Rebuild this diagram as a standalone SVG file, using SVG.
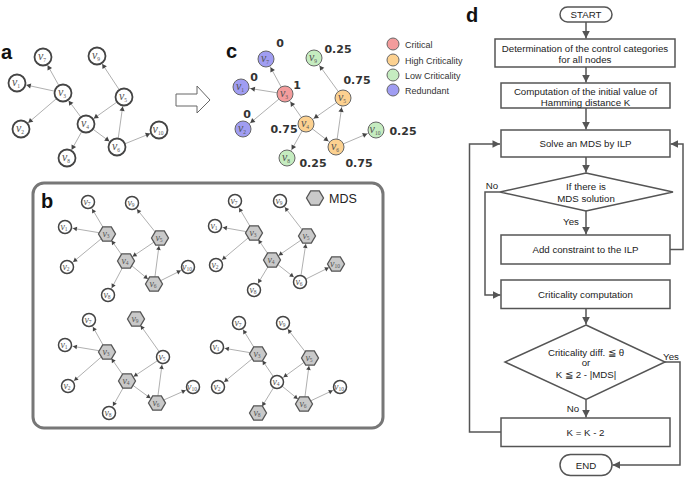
<svg xmlns="http://www.w3.org/2000/svg" xmlns:xlink="http://www.w3.org/1999/xlink" width="685" height="479" viewBox="0 0 685 479">
<style>
.e{stroke:#b0b0b0;stroke-width:1;fill:none}
.ea{marker-end:url(#ma)}
.eb{marker-end:url(#mb)}
.n{fill:#fff;stroke:#444;stroke-width:1.8}
.nb{fill:#fff;stroke:#444;stroke-width:1.5}
.cn{stroke:#666;stroke-width:1}
.red{fill:#f39c9c}.org{fill:#fcd190}.grn{fill:#c5ecc0}.blu{fill:#a09df2}
.hx{fill:#c9c9c9;stroke:#555;stroke-width:1.3}
.lb{font-family:"Liberation Serif",serif;font-style:italic;font-size:12px;fill:#555;text-anchor:middle}
.lbs{font-family:"Liberation Serif",serif;font-style:italic;font-size:10px;fill:#555;text-anchor:middle}
.sub{font-size:5.5px;font-style:normal}
.pl{font-family:"Liberation Sans",Arial,sans-serif;font-weight:bold;font-size:20px;fill:#111}
.val{font-family:"DejaVu Sans",sans-serif;font-weight:bold;font-size:11px;fill:#333;text-anchor:middle}
.lg{font-family:"Liberation Sans",Arial,sans-serif;font-size:9px;fill:#333}
.fl{fill:none;stroke:#555;stroke-width:1.5}
.fa{marker-end:url(#mf)}
.bx{fill:#fff;stroke:#555;stroke-width:1.5}
.ft{font-family:"Liberation Sans",Arial,sans-serif;font-size:9.7px;fill:#222;text-anchor:middle}
</style>
<defs>
<marker id="ma" markerUnits="userSpaceOnUse" orient="auto" refX="0" refY="0" markerWidth="20" markerHeight="20" overflow="visible"><path d="M-14,-2.6 L-9.5,0 L-14,2.6 z" fill="#444"/></marker>
<marker id="mb" markerUnits="userSpaceOnUse" orient="auto" refX="0" refY="0" markerWidth="20" markerHeight="20" overflow="visible"><path d="M-12,-2.3 L-8,0 L-12,2.3 z" fill="#444"/></marker>
<marker id="mf" markerUnits="userSpaceOnUse" orient="auto" refX="0" refY="0" markerWidth="20" markerHeight="20" overflow="visible"><path d="M-7.5,-3.8 L0,0 L-7.5,3.8 z" fill="#555"/></marker>
<polygon id="hex" points="-8.5,0 -4.3,-7.2 4.3,-7.2 8.5,0 4.3,7.2 -4.3,7.2"/>
</defs>
<rect width="685" height="479" fill="#fff"/>

<!-- panel labels -->
<text class="pl" x="1" y="59">a</text>
<text class="pl" x="226" y="58">c</text>
<text class="pl" x="41" y="208">b</text>
<text class="pl" x="466" y="22">d</text>

<!-- hollow arrow -->
<polygon points="176,94 197,94 197,86 210,100 197,113 197,106 176,106" fill="#fff" stroke="#666" stroke-width="1"/>

<!-- panel b frame -->
<rect x="33" y="183" width="350" height="245" rx="11" fill="none" stroke="#777" stroke-width="3"/>
<g id="mds-legend">
<use href="#hex" x="315" y="198" class="hx"/>
<text x="329" y="202.5" font-family="Liberation Sans, Arial, sans-serif" font-size="12.5" fill="#222">MDS</text>
</g>

<!-- connectors -->
<g id="connectors">
<g id="edges-a" class="e ea">
<path d="M63,93 L43,57"/><path d="M63,93 L17,83"/><path d="M63,93 L21,129"/><path d="M86,124 L63,93"/><path d="M124,97 L97,56"/><path d="M124,97 L86,124"/><path d="M86,124 L67,158"/><path d="M86,124 L117,147"/><path d="M117,147 L124,97"/><path d="M117,147 L159,130"/>
</g>
<g id="edges-c" class="e ea">
<path d="M285,94 L266,59"/><path d="M285,94 L241,87"/><path d="M285,94 L243,129"/><path d="M306,124 L285,94"/><path d="M343,98 L314,58"/><path d="M343,98 L306,124"/><path d="M306,124 L287,158"/><path d="M306,124 L336,147"/><path d="M336,147 L343,98"/><path d="M336,147 L376,130"/>
</g>
<g id="edges-b1" class="e eb">
<path d="M107,234 L88,202"/><path d="M107,234 L65,227"/><path d="M107,234 L67,267"/><path d="M126,261 L107,234"/><path d="M160,238 L132,203"/><path d="M160,238 L126,261"/><path d="M126,261 L108,295"/><path d="M126,261 L154,284"/><path d="M154,284 L160,238"/><path d="M154,284 L188,267"/>
</g>
<g id="edges-b2" class="e eb">
<path d="M254,233 L235,201"/><path d="M254,233 L215,226"/><path d="M254,233 L216,265"/><path d="M272,260 L254,233"/><path d="M307,236 L280,201"/><path d="M307,236 L272,260"/><path d="M272,260 L254,290"/><path d="M272,260 L300,282"/><path d="M300,282 L307,236"/><path d="M300,282 L336,264"/>
</g>
<g id="edges-b3" class="e eb">
<path d="M107,352 L89,320"/><path d="M107,352 L65,345"/><path d="M107,352 L68,386"/><path d="M127,381 L107,352"/><path d="M163,357 L136,319"/><path d="M163,357 L127,381"/><path d="M127,381 L109,413"/><path d="M127,381 L157,403"/><path d="M157,403 L163,357"/><path d="M157,403 L193,387"/>
</g>
<g id="edges-b4" class="e eb">
<path d="M258,354 L239,323"/><path d="M258,354 L217,347"/><path d="M258,354 L218,387"/><path d="M277,382 L258,354"/><path d="M310,358 L283,323"/><path d="M310,358 L277,382"/><path d="M277,382 L258,413"/><path d="M277,382 L304,404"/><path d="M304,404 L310,358"/><path d="M304,404 L340,387"/>
</g>
<g id="flow-connectors" class="fl fa">
<path d="M586,22 L586,38.5"/>
<path d="M586,67 L586,82.5"/>
<path d="M586,108 L586,129.5"/>
<path d="M586,157 L586,172.5"/>
<path d="M586,211 L586,234.5"/>
<path d="M586,308.5 L586,324.5"/>
<path d="M586,399.5 L586,417.5"/>
<path d="M500,192 L485,192 L485,295 L500.5,295"/>
<path d="M670,249.5 L683,249.5 L683,144 L670.5,144"/>
<path d="M501,432 L469.5,432 L469.5,144 L500,144"/>
<path d="M665,362 L680,362 L680,465 L612.5,465"/>
</g>
</g>

<!-- panel a nodes -->
<g id="a-v7"><circle class="n" cx="43" cy="57" r="8.5"/><text class="lb" x="42" y="60">v<tspan class="sub" dy="1.5">7</tspan></text></g>
<g id="a-v9"><circle class="n" cx="97" cy="56" r="8.5"/><text class="lb" x="96" y="59">v<tspan class="sub" dy="1.5">9</tspan></text></g>
<g id="a-v1"><circle class="n" cx="17" cy="83" r="8.5"/><text class="lb" x="16" y="86">v<tspan class="sub" dy="1.5">1</tspan></text></g>
<g id="a-v3"><circle class="n" cx="63" cy="93" r="8.5"/><text class="lb" x="62" y="96">v<tspan class="sub" dy="1.5">3</tspan></text></g>
<g id="a-v5"><circle class="n" cx="124" cy="97" r="8.5"/><text class="lb" x="123" y="100">v<tspan class="sub" dy="1.5">5</tspan></text></g>
<g id="a-v2"><circle class="n" cx="21" cy="129" r="8.5"/><text class="lb" x="20" y="132">v<tspan class="sub" dy="1.5">2</tspan></text></g>
<g id="a-v4"><circle class="n" cx="86" cy="124" r="8.5"/><text class="lb" x="85" y="127">v<tspan class="sub" dy="1.5">4</tspan></text></g>
<g id="a-v10"><circle class="n" cx="159" cy="130" r="8.5"/><text class="lb" x="158" y="133">v<tspan class="sub" dy="1.5">10</tspan></text></g>
<g id="a-v6"><circle class="n" cx="117" cy="147" r="8.5"/><text class="lb" x="116" y="150">v<tspan class="sub" dy="1.5">6</tspan></text></g>
<g id="a-v8"><circle class="n" cx="67" cy="158" r="8.5"/><text class="lb" x="66" y="161">v<tspan class="sub" dy="1.5">8</tspan></text></g>

<!-- panel c nodes -->
<g id="c-v7"><circle class="cn blu" cx="266" cy="59" r="8"/><text class="lb" x="265" y="62">v<tspan class="sub" dy="1.5">7</tspan></text><text class="val" x="280" y="47">0</text></g>
<g id="c-v9"><circle class="cn grn" cx="314" cy="58" r="8"/><text class="lb" x="313" y="61">v<tspan class="sub" dy="1.5">9</tspan></text><text class="val" x="338" y="53">0.25</text></g>
<g id="c-v1"><circle class="cn blu" cx="241" cy="87" r="8"/><text class="lb" x="240" y="90">v<tspan class="sub" dy="1.5">1</tspan></text><text class="val" x="254" y="81">0</text></g>
<g id="c-v3"><circle class="cn red" cx="285" cy="94" r="8"/><text class="lb" x="284" y="97">v<tspan class="sub" dy="1.5">3</tspan></text><text class="val" x="297" y="89">1</text></g>
<g id="c-v5"><circle class="cn org" cx="343" cy="98" r="8"/><text class="lb" x="342" y="101">v<tspan class="sub" dy="1.5">5</tspan></text><text class="val" x="357" y="84">0.75</text></g>
<g id="c-v2"><circle class="cn blu" cx="243" cy="129" r="8"/><text class="lb" x="242" y="132">v<tspan class="sub" dy="1.5">2</tspan></text><text class="val" x="247" y="118">0</text></g>
<g id="c-v4"><circle class="cn org" cx="306" cy="124" r="8"/><text class="lb" x="305" y="127">v<tspan class="sub" dy="1.5">4</tspan></text><text class="val" x="284" y="133">0.75</text></g>
<g id="c-v10"><circle class="cn grn" cx="376" cy="130" r="8"/><text class="lb" x="375" y="133">v<tspan class="sub" dy="1.5">10</tspan></text><text class="val" x="403" y="135">0.25</text></g>
<g id="c-v6"><circle class="cn org" cx="336" cy="147" r="8"/><text class="lb" x="335" y="150">v<tspan class="sub" dy="1.5">6</tspan></text><text class="val" x="359" y="167">0.75</text></g>
<g id="c-v8"><circle class="cn grn" cx="287" cy="158" r="8"/><text class="lb" x="286" y="161">v<tspan class="sub" dy="1.5">8</tspan></text><text class="val" x="313" y="167">0.25</text></g>

<!-- legend c -->
<g id="legend-c">
<circle class="cn red" cx="393" cy="44" r="6"/><text class="lg" x="405" y="47.5">Critical</text>
<circle class="cn org" cx="393" cy="60" r="6"/><text class="lg" x="405" y="63.5">High Criticality</text>
<circle class="cn grn" cx="393" cy="75" r="6"/><text class="lg" x="405" y="78.5">Low Criticality</text>
<circle class="cn blu" cx="393" cy="90" r="6"/><text class="lg" x="405" y="93.5">Redundant</text>
</g>

<!-- panel b: top-left -->
<g id="b1-v7"><circle class="nb" cx="88" cy="202" r="6.5"/><text class="lbs" x="87" y="204.5">v<tspan class="sub" dy="1.5">7</tspan></text></g>
<g id="b1-v9"><circle class="nb" cx="132" cy="203" r="6.5"/><text class="lbs" x="131" y="205.5">v<tspan class="sub" dy="1.5">9</tspan></text></g>
<g id="b1-v1"><circle class="nb" cx="65" cy="227" r="6.5"/><text class="lbs" x="64" y="229.5">v<tspan class="sub" dy="1.5">1</tspan></text></g>
<g id="b1-v3"><use href="#hex" class="hx" x="107" y="234"/><text class="lbs" x="106" y="236.5">v<tspan class="sub" dy="1.5">3</tspan></text></g>
<g id="b1-v5"><use href="#hex" class="hx" x="160" y="238"/><text class="lbs" x="159" y="240.5">v<tspan class="sub" dy="1.5">5</tspan></text></g>
<g id="b1-v2"><circle class="nb" cx="67" cy="267" r="6.5"/><text class="lbs" x="66" y="269.5">v<tspan class="sub" dy="1.5">2</tspan></text></g>
<g id="b1-v4"><use href="#hex" class="hx" x="126" y="261"/><text class="lbs" x="125" y="263.5">v<tspan class="sub" dy="1.5">4</tspan></text></g>
<g id="b1-v10"><circle class="nb" cx="188" cy="267" r="6.5"/><text class="lbs" x="187" y="269.5">v<tspan class="sub" dy="1.5">10</tspan></text></g>
<g id="b1-v6"><use href="#hex" class="hx" x="154" y="284"/><text class="lbs" x="153" y="286.5">v<tspan class="sub" dy="1.5">6</tspan></text></g>
<g id="b1-v8"><circle class="nb" cx="108" cy="295" r="6.5"/><text class="lbs" x="107" y="297.5">v<tspan class="sub" dy="1.5">8</tspan></text></g>

<!-- panel b: top-right -->
<g id="b2-v7"><circle class="nb" cx="235" cy="201" r="6.5"/><text class="lbs" x="234" y="203.5">v<tspan class="sub" dy="1.5">7</tspan></text></g>
<g id="b2-v9"><circle class="nb" cx="280" cy="201" r="6.5"/><text class="lbs" x="279" y="203.5">v<tspan class="sub" dy="1.5">9</tspan></text></g>
<g id="b2-v1"><circle class="nb" cx="215" cy="226" r="6.5"/><text class="lbs" x="214" y="228.5">v<tspan class="sub" dy="1.5">1</tspan></text></g>
<g id="b2-v3"><use href="#hex" class="hx" x="254" y="233"/><text class="lbs" x="253" y="235.5">v<tspan class="sub" dy="1.5">3</tspan></text></g>
<g id="b2-v5"><use href="#hex" class="hx" x="307" y="236"/><text class="lbs" x="306" y="238.5">v<tspan class="sub" dy="1.5">5</tspan></text></g>
<g id="b2-v2"><circle class="nb" cx="216" cy="265" r="6.5"/><text class="lbs" x="215" y="267.5">v<tspan class="sub" dy="1.5">2</tspan></text></g>
<g id="b2-v4"><use href="#hex" class="hx" x="272" y="260"/><text class="lbs" x="271" y="262.5">v<tspan class="sub" dy="1.5">4</tspan></text></g>
<g id="b2-v10"><use href="#hex" class="hx" x="336" y="264"/><text class="lbs" x="335" y="266.5">v<tspan class="sub" dy="1.5">10</tspan></text></g>
<g id="b2-v6"><circle class="nb" cx="300" cy="282" r="6.5"/><text class="lbs" x="299" y="284.5">v<tspan class="sub" dy="1.5">6</tspan></text></g>
<g id="b2-v8"><circle class="nb" cx="254" cy="290" r="6.5"/><text class="lbs" x="253" y="292.5">v<tspan class="sub" dy="1.5">8</tspan></text></g>

<!-- panel b: bottom-left -->
<g id="b3-v7"><circle class="nb" cx="89" cy="320" r="6.5"/><text class="lbs" x="88" y="322.5">v<tspan class="sub" dy="1.5">7</tspan></text></g>
<g id="b3-v9"><use href="#hex" class="hx" x="136" y="319"/><text class="lbs" x="135" y="321.5">v<tspan class="sub" dy="1.5">9</tspan></text></g>
<g id="b3-v1"><circle class="nb" cx="65" cy="345" r="6.5"/><text class="lbs" x="64" y="347.5">v<tspan class="sub" dy="1.5">1</tspan></text></g>
<g id="b3-v3"><use href="#hex" class="hx" x="107" y="352"/><text class="lbs" x="106" y="354.5">v<tspan class="sub" dy="1.5">3</tspan></text></g>
<g id="b3-v5"><circle class="nb" cx="163" cy="357" r="6.5"/><text class="lbs" x="162" y="359.5">v<tspan class="sub" dy="1.5">5</tspan></text></g>
<g id="b3-v2"><circle class="nb" cx="68" cy="386" r="6.5"/><text class="lbs" x="67" y="388.5">v<tspan class="sub" dy="1.5">2</tspan></text></g>
<g id="b3-v4"><use href="#hex" class="hx" x="127" y="381"/><text class="lbs" x="126" y="383.5">v<tspan class="sub" dy="1.5">4</tspan></text></g>
<g id="b3-v10"><circle class="nb" cx="193" cy="387" r="6.5"/><text class="lbs" x="192" y="389.5">v<tspan class="sub" dy="1.5">10</tspan></text></g>
<g id="b3-v6"><use href="#hex" class="hx" x="157" y="403"/><text class="lbs" x="156" y="405.5">v<tspan class="sub" dy="1.5">6</tspan></text></g>
<g id="b3-v8"><circle class="nb" cx="109" cy="413" r="6.5"/><text class="lbs" x="108" y="415.5">v<tspan class="sub" dy="1.5">8</tspan></text></g>

<!-- panel b: bottom-right -->
<g id="b4-v7"><circle class="nb" cx="239" cy="323" r="6.5"/><text class="lbs" x="238" y="325.5">v<tspan class="sub" dy="1.5">7</tspan></text></g>
<g id="b4-v9"><circle class="nb" cx="283" cy="323" r="6.5"/><text class="lbs" x="282" y="325.5">v<tspan class="sub" dy="1.5">9</tspan></text></g>
<g id="b4-v1"><circle class="nb" cx="217" cy="347" r="6.5"/><text class="lbs" x="216" y="349.5">v<tspan class="sub" dy="1.5">1</tspan></text></g>
<g id="b4-v3"><use href="#hex" class="hx" x="258" y="354"/><text class="lbs" x="257" y="356.5">v<tspan class="sub" dy="1.5">3</tspan></text></g>
<g id="b4-v5"><use href="#hex" class="hx" x="310" y="358"/><text class="lbs" x="309" y="360.5">v<tspan class="sub" dy="1.5">5</tspan></text></g>
<g id="b4-v2"><circle class="nb" cx="218" cy="387" r="6.5"/><text class="lbs" x="217" y="389.5">v<tspan class="sub" dy="1.5">2</tspan></text></g>
<g id="b4-v4"><circle class="nb" cx="277" cy="382" r="6.5"/><text class="lbs" x="276" y="384.5">v<tspan class="sub" dy="1.5">4</tspan></text></g>
<g id="b4-v10"><circle class="nb" cx="340" cy="387" r="6.5"/><text class="lbs" x="339" y="389.5">v<tspan class="sub" dy="1.5">10</tspan></text></g>
<g id="b4-v6"><use href="#hex" class="hx" x="304" y="404"/><text class="lbs" x="303" y="406.5">v<tspan class="sub" dy="1.5">6</tspan></text></g>
<g id="b4-v8"><use href="#hex" class="hx" x="258" y="413"/><text class="lbs" x="257" y="415.5">v<tspan class="sub" dy="1.5">8</tspan></text></g>

<!-- panel d flowchart -->
<g id="d-start"><rect class="bx" x="560" y="7" width="52" height="15" rx="7.5"/><text class="ft" x="586" y="18">START</text></g>
<g id="d-determination"><rect class="bx" x="495" y="39" width="180" height="28"/><text class="ft" x="585" y="51.5">Determination of the control categories</text><text class="ft" x="585" y="63">for all nodes</text></g>
<g id="d-computation"><rect class="bx" x="501" y="83" width="169" height="25"/><text class="ft" x="585.5" y="95">Computation of the initial value of</text><text class="ft" x="585.5" y="105.5">Hamming distance K</text></g>
<g id="d-solve"><rect class="bx" x="501" y="130" width="169" height="27"/><text class="ft" x="585.5" y="147">Solve an MDS by ILP</text></g>
<g id="d-if-solution"><polygon class="bx" points="586,173 673,192 586,211 500,192"/><text class="ft" x="586" y="190">If there is</text><text class="ft" x="586" y="201.5">MDS solution</text></g>
<g id="d-add-constraint"><rect class="bx" x="501" y="235" width="169" height="29"/><text class="ft" x="585.5" y="253">Add constraint to the ILP</text></g>
<g id="d-criticality"><rect class="bx" x="501" y="280" width="169" height="28.5"/><text class="ft" x="585.5" y="298">Criticality computation</text></g>
<g id="d-condition"><polygon class="bx" points="586,325 665,362 586,399.5 505,362"/><text class="ft" x="586" y="356">Criticality diff. ≦ θ</text><text class="ft" x="586" y="366">or</text><text class="ft" x="586" y="377.5">K ≦ 2 - |MDS|</text></g>
<g id="d-k-update"><rect class="bx" x="501" y="418" width="169" height="28.5"/><text class="ft" x="585.5" y="436">K = K - 2</text></g>
<g id="d-end"><rect class="bx" x="560" y="454.5" width="52" height="21" rx="10.5"/><text class="ft" x="586" y="468.5">END</text></g>
<g id="d-labels">
<text class="ft" x="492" y="188.5">No</text>
<text class="ft" x="571" y="225">Yes</text>
<text class="ft" x="671" y="360">Yes</text>
<text class="ft" x="573" y="411.5">No</text>
</g>
</svg>
